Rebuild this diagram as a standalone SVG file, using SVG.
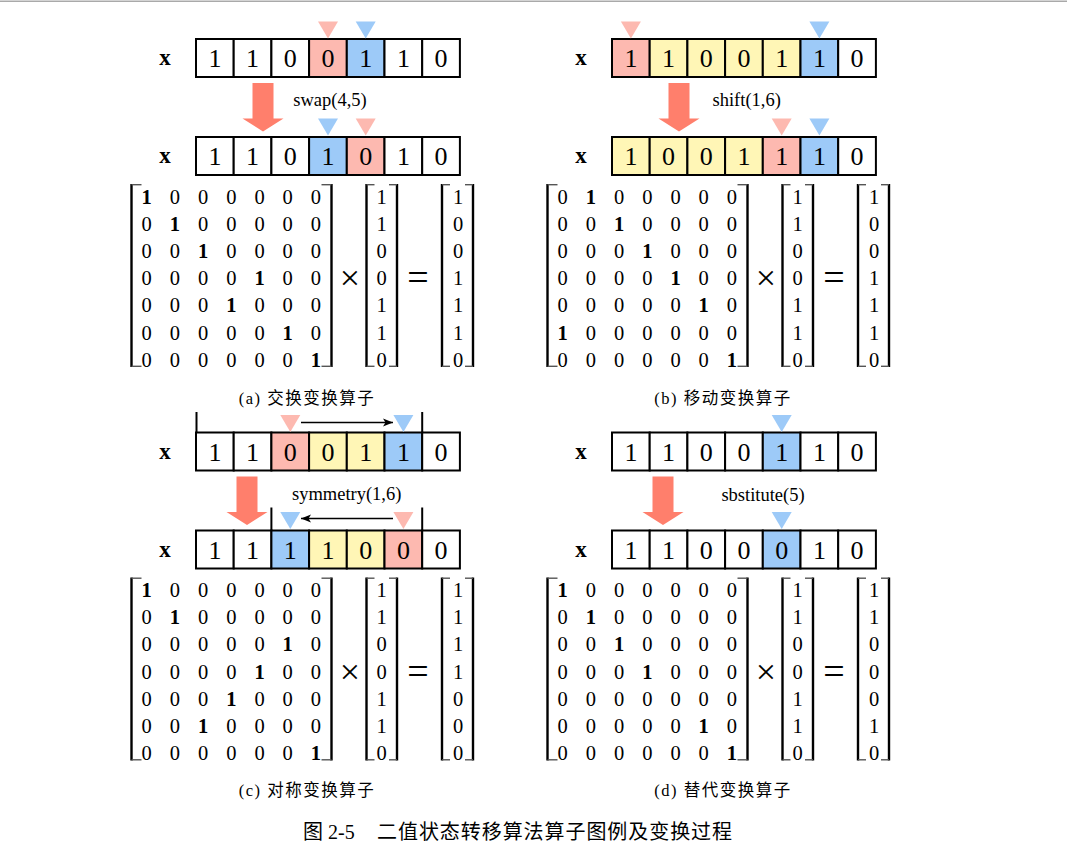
<svg xmlns="http://www.w3.org/2000/svg" width="1067" height="859" viewBox="0 0 1067 859">
<style>
text{font-family:"Liberation Serif","Noto Sans CJK SC",serif;fill:#000}
.c{fill:#fff;stroke:#000;stroke-width:2}
.pk{fill:#FDB9B0}
.bl{fill:#9DCAF8}
.yl{fill:#FFF6B6}
.tp{fill:#FDB9B0}
.tb{fill:#9DCAF8}
.d{font-size:26px;text-anchor:middle}
.xl{font-size:23px;font-weight:bold;text-anchor:middle}
.op{font-size:18.5px;text-anchor:middle}
.m{font-size:20.5px;text-anchor:middle}
.b{font-weight:bold}
.cap{font-size:16.5px;text-anchor:middle;letter-spacing:1.5px}
.big{fill:#FF7F6C}
.bv{stroke:#000;stroke-width:2.4}
.bs{stroke:#555;stroke-width:1.4}
.thin{stroke:#000;stroke-width:1.3;fill:none}
.ln{stroke:#000;stroke-width:2}
</style>
<defs>
<marker id="ah" viewBox="0 0 10 10" refX="10" refY="5" markerWidth="10" markerHeight="10" markerUnits="userSpaceOnUse" orient="auto">
<path d="M0,1 L10,5 L0,9 L2.5,5 Z" fill="#000"/>
</marker>
<g id="brackets">
<line class="bv" x1="131.5" y1="184" x2="131.5" y2="367"/>
<line class="bs" x1="131.5" y1="184.7" x2="141.5" y2="184.7"/><line class="bs" x1="131.5" y1="366.3" x2="141.5" y2="366.3"/>
<line class="bv" x1="331.5" y1="184" x2="331.5" y2="367"/>
<line class="bs" x1="321.5" y1="184.7" x2="331.5" y2="184.7"/><line class="bs" x1="321.5" y1="366.3" x2="331.5" y2="366.3"/>
<line class="bv" x1="366.5" y1="184" x2="366.5" y2="367"/>
<line class="bs" x1="366.5" y1="184.7" x2="374.5" y2="184.7"/><line class="bs" x1="366.5" y1="366.3" x2="374.5" y2="366.3"/>
<line class="bv" x1="397" y1="184" x2="397" y2="367"/>
<line class="bs" x1="389" y1="184.7" x2="397" y2="184.7"/><line class="bs" x1="389" y1="366.3" x2="397" y2="366.3"/>
<line class="bv" x1="442" y1="184" x2="442" y2="367"/>
<line class="bs" x1="442" y1="184.7" x2="450" y2="184.7"/><line class="bs" x1="442" y1="366.3" x2="450" y2="366.3"/>
<line class="bv" x1="473" y1="184" x2="473" y2="367"/>
<line class="bs" x1="465" y1="184.7" x2="473" y2="184.7"/><line class="bs" x1="465" y1="366.3" x2="473" y2="366.3"/>
<text x="350" y="290" style="font-size:36px;text-anchor:middle">×</text>
<text x="418" y="290" style="font-size:38px;text-anchor:middle">=</text>
<text class="m" x="381.5 381.5 381.5 381.5 381.5 381.5 381.5" y="203.5 230.7 257.9 285.1 312.3 339.5 366.7">1100110</text>
</g>
<polygon id="bigA" class="big" points="252.5,83 273.5,83 273.5,118.5 283.5,118.5 263,131.5 242.5,118.5 252.5,118.5"/>
<polygon id="bigC" class="big" points="236.5,83 257.5,83 257.5,118.5 267.5,118.5 247,131.5 226.5,118.5 236.5,118.5"/>
<polygon id="tri" points="-10,0 10,0 0,17"/>
</defs>
<rect x="0" y="0.5" width="1067" height="1.5" fill="#a9a9a9"/>

<!-- Panel A -->
<g id="panel-a">
<g id="a-row1">
<text class="xl" x="165" y="65">x</text>
<rect class="c" x="196" y="39" width="37.7" height="38"/><rect class="c" x="233.7" y="39" width="37.7" height="38"/><rect class="c" x="271.4" y="39" width="37.7" height="38"/><rect class="c pk" x="309.1" y="39" width="37.7" height="38"/><rect class="c bl" x="346.8" y="39" width="37.7" height="38"/><rect class="c" x="384.5" y="39" width="37.7" height="38"/><rect class="c" x="422.2" y="39" width="37.7" height="38"/>
<text class="d" x="214.9 252.6 290.3 328 365.7 403.4 441.1" y="67">1100110</text>
<use href="#tri" class="tp" x="328" y="21.5"/><use href="#tri" class="tb" x="365.7" y="21.5"/>
</g>
<use href="#bigA"/>
<text class="op" x="330" y="106">swap(4,5)</text>
<g id="a-row2">
<text class="xl" x="165" y="163">x</text>
<rect class="c" x="196" y="137" width="37.7" height="38"/><rect class="c" x="233.7" y="137" width="37.7" height="38"/><rect class="c" x="271.4" y="137" width="37.7" height="38"/><rect class="c bl" x="309.1" y="137" width="37.7" height="38"/><rect class="c pk" x="346.8" y="137" width="37.7" height="38"/><rect class="c" x="384.5" y="137" width="37.7" height="38"/><rect class="c" x="422.2" y="137" width="37.7" height="38"/>
<text class="d" x="214.9 252.6 290.3 328 365.7 403.4 441.1" y="165">1101010</text>
<use href="#tri" class="tb" x="328" y="118.5"/><use href="#tri" class="tp" x="365.7" y="118.5"/>
</g>
<g id="a-matrix">
<use href="#brackets"/>
<g class="m">
<text y="203.5"><tspan x="146.7" class="b">1</tspan><tspan x="174.9 203.1 231.3 259.5 287.7 315.9">000000</tspan></text>
<text y="230.7"><tspan x="146.7">0</tspan><tspan x="174.9" class="b">1</tspan><tspan x="203.1 231.3 259.5 287.7 315.9">00000</tspan></text>
<text y="257.9"><tspan x="146.7 174.9">00</tspan><tspan x="203.1" class="b">1</tspan><tspan x="231.3 259.5 287.7 315.9">0000</tspan></text>
<text y="285.1"><tspan x="146.7 174.9 203.1 231.3">0000</tspan><tspan x="259.5" class="b">1</tspan><tspan x="287.7 315.9">00</tspan></text>
<text y="312.3"><tspan x="146.7 174.9 203.1">000</tspan><tspan x="231.3" class="b">1</tspan><tspan x="259.5 287.7 315.9">000</tspan></text>
<text y="339.5"><tspan x="146.7 174.9 203.1 231.3 259.5">00000</tspan><tspan x="287.7" class="b">1</tspan><tspan x="315.9">0</tspan></text>
<text y="366.7"><tspan x="146.7 174.9 203.1 231.3 259.5 287.7">000000</tspan><tspan x="315.9" class="b">1</tspan></text>
</g>
<text class="m" x="458 458 458 458 458 458 458" y="203.5 230.7 257.9 285.1 312.3 339.5 366.7">1001110</text>
</g>
<text class="cap" x="307" y="404">(a) 交换变换算子</text>
</g>

<!-- Panel B -->
<g id="panel-b" transform="translate(416,0)">
<g id="b-row1">
<text class="xl" x="165" y="65">x</text>
<rect class="c pk" x="196" y="39" width="37.7" height="38"/><rect class="c yl" x="233.7" y="39" width="37.7" height="38"/><rect class="c yl" x="271.4" y="39" width="37.7" height="38"/><rect class="c yl" x="309.1" y="39" width="37.7" height="38"/><rect class="c yl" x="346.8" y="39" width="37.7" height="38"/><rect class="c bl" x="384.5" y="39" width="37.7" height="38"/><rect class="c" x="422.2" y="39" width="37.7" height="38"/>
<text class="d" x="214.9 252.6 290.3 328 365.7 403.4 441.1" y="67">1100110</text>
<use href="#tri" class="tp" x="214.9" y="21.5"/><use href="#tri" class="tb" x="403.4" y="21.5"/>
</g>
<use href="#bigA"/>
<text class="op" x="330.7" y="106">shift(1,6)</text>
<g id="b-row2">
<text class="xl" x="165" y="163">x</text>
<rect class="c yl" x="196" y="137" width="37.7" height="38"/><rect class="c yl" x="233.7" y="137" width="37.7" height="38"/><rect class="c yl" x="271.4" y="137" width="37.7" height="38"/><rect class="c yl" x="309.1" y="137" width="37.7" height="38"/><rect class="c pk" x="346.8" y="137" width="37.7" height="38"/><rect class="c bl" x="384.5" y="137" width="37.7" height="38"/><rect class="c" x="422.2" y="137" width="37.7" height="38"/>
<text class="d" x="214.9 252.6 290.3 328 365.7 403.4 441.1" y="165">1001110</text>
<use href="#tri" class="tp" x="365.7" y="118.5"/><use href="#tri" class="tb" x="403.4" y="118.5"/>
</g>
<g id="b-matrix">
<use href="#brackets"/>
<g class="m">
<text y="203.5"><tspan x="146.7">0</tspan><tspan x="174.9" class="b">1</tspan><tspan x="203.1 231.3 259.5 287.7 315.9">00000</tspan></text>
<text y="230.7"><tspan x="146.7 174.9">00</tspan><tspan x="203.1" class="b">1</tspan><tspan x="231.3 259.5 287.7 315.9">0000</tspan></text>
<text y="257.9"><tspan x="146.7 174.9 203.1">000</tspan><tspan x="231.3" class="b">1</tspan><tspan x="259.5 287.7 315.9">000</tspan></text>
<text y="285.1"><tspan x="146.7 174.9 203.1 231.3">0000</tspan><tspan x="259.5" class="b">1</tspan><tspan x="287.7 315.9">00</tspan></text>
<text y="312.3"><tspan x="146.7 174.9 203.1 231.3 259.5">00000</tspan><tspan x="287.7" class="b">1</tspan><tspan x="315.9">0</tspan></text>
<text y="339.5"><tspan x="146.7" class="b">1</tspan><tspan x="174.9 203.1 231.3 259.5 287.7 315.9">000000</tspan></text>
<text y="366.7"><tspan x="146.7 174.9 203.1 231.3 259.5 287.7">000000</tspan><tspan x="315.9" class="b">1</tspan></text>
</g>
<text class="m" x="458 458 458 458 458 458 458" y="203.5 230.7 257.9 285.1 312.3 339.5 366.7">1001110</text>
</g>
<text class="cap" x="307" y="404">(b) 移动变换算子</text>
</g>

<!-- Panel C -->
<g id="panel-c" transform="translate(0,393.5)">
<g id="c-row1">
<text class="xl" x="165" y="65">x</text>
<rect class="c" x="196" y="39" width="37.7" height="38"/><rect class="c" x="233.7" y="39" width="37.7" height="38"/><rect class="c pk" x="271.4" y="39" width="37.7" height="38"/><rect class="c yl" x="309.1" y="39" width="37.7" height="38"/><rect class="c yl" x="346.8" y="39" width="37.7" height="38"/><rect class="c bl" x="384.5" y="39" width="37.7" height="38"/><rect class="c" x="422.2" y="39" width="37.7" height="38"/>
<text class="d" x="214.9 252.6 290.3 328 365.7 403.4 441.1" y="67">1100110</text>
<use href="#tri" class="tp" x="290.3" y="21.5"/><use href="#tri" class="tb" x="403.4" y="21.5"/>
<line class="ln" x1="196.5" y1="18.5" x2="196.5" y2="39"/><line class="ln" x1="422.2" y1="18.5" x2="422.2" y2="39"/>
</g>
<use href="#bigC"/>
<text class="op" x="346.7" y="106">symmetry(1,6)</text>
<g id="c-row2">
<text class="xl" x="165" y="163">x</text>
<rect class="c" x="196" y="137" width="37.7" height="38"/><rect class="c" x="233.7" y="137" width="37.7" height="38"/><rect class="c bl" x="271.4" y="137" width="37.7" height="38"/><rect class="c yl" x="309.1" y="137" width="37.7" height="38"/><rect class="c yl" x="346.8" y="137" width="37.7" height="38"/><rect class="c pk" x="384.5" y="137" width="37.7" height="38"/><rect class="c" x="422.2" y="137" width="37.7" height="38"/>
<text class="d" x="214.9 252.6 290.3 328 365.7 403.4 441.1" y="165">1111000</text>
<use href="#tri" class="tb" x="290.3" y="118.5"/><use href="#tri" class="tp" x="403.4" y="118.5"/>
<line class="ln" x1="271.4" y1="114" x2="271.4" y2="137"/><line class="ln" x1="422.2" y1="114" x2="422.2" y2="137"/>
</g>
<g id="c-matrix">
<use href="#brackets"/>
<g class="m">
<text y="203.5"><tspan x="146.7" class="b">1</tspan><tspan x="174.9 203.1 231.3 259.5 287.7 315.9">000000</tspan></text>
<text y="230.7"><tspan x="146.7">0</tspan><tspan x="174.9" class="b">1</tspan><tspan x="203.1 231.3 259.5 287.7 315.9">00000</tspan></text>
<text y="257.9"><tspan x="146.7 174.9 203.1 231.3 259.5">00000</tspan><tspan x="287.7" class="b">1</tspan><tspan x="315.9">0</tspan></text>
<text y="285.1"><tspan x="146.7 174.9 203.1 231.3">0000</tspan><tspan x="259.5" class="b">1</tspan><tspan x="287.7 315.9">00</tspan></text>
<text y="312.3"><tspan x="146.7 174.9 203.1">000</tspan><tspan x="231.3" class="b">1</tspan><tspan x="259.5 287.7 315.9">000</tspan></text>
<text y="339.5"><tspan x="146.7 174.9">00</tspan><tspan x="203.1" class="b">1</tspan><tspan x="231.3 259.5 287.7 315.9">0000</tspan></text>
<text y="366.7"><tspan x="146.7 174.9 203.1 231.3 259.5 287.7">000000</tspan><tspan x="315.9" class="b">1</tspan></text>
</g>
<text class="m" x="458 458 458 458 458 458 458" y="203.5 230.7 257.9 285.1 312.3 339.5 366.7">1111000</text>
</g>
<text class="cap" x="307" y="402">(c) 对称变换算子</text>
</g>

<!-- Panel D -->
<g id="panel-d" transform="translate(416,393.5)">
<g id="d-row1">
<text class="xl" x="165" y="65">x</text>
<rect class="c" x="196" y="39" width="37.7" height="38"/><rect class="c" x="233.7" y="39" width="37.7" height="38"/><rect class="c" x="271.4" y="39" width="37.7" height="38"/><rect class="c" x="309.1" y="39" width="37.7" height="38"/><rect class="c bl" x="346.8" y="39" width="37.7" height="38"/><rect class="c" x="384.5" y="39" width="37.7" height="38"/><rect class="c" x="422.2" y="39" width="37.7" height="38"/>
<text class="d" x="214.9 252.6 290.3 328 365.7 403.4 441.1" y="67">1100110</text>
<use href="#tri" class="tb" x="365.7" y="21.5"/>
</g>
<use href="#bigC"/>
<text class="op" x="347" y="107">sbstitute(5)</text>
<g id="d-row2">
<text class="xl" x="165" y="163">x</text>
<rect class="c" x="196" y="137" width="37.7" height="38"/><rect class="c" x="233.7" y="137" width="37.7" height="38"/><rect class="c" x="271.4" y="137" width="37.7" height="38"/><rect class="c" x="309.1" y="137" width="37.7" height="38"/><rect class="c bl" x="346.8" y="137" width="37.7" height="38"/><rect class="c" x="384.5" y="137" width="37.7" height="38"/><rect class="c" x="422.2" y="137" width="37.7" height="38"/>
<text class="d" x="214.9 252.6 290.3 328 365.7 403.4 441.1" y="165">1100010</text>
<use href="#tri" class="tb" x="365.7" y="118.5"/>
</g>
<g id="d-matrix">
<use href="#brackets"/>
<g class="m">
<text y="203.5"><tspan x="146.7" class="b">1</tspan><tspan x="174.9 203.1 231.3 259.5 287.7 315.9">000000</tspan></text>
<text y="230.7"><tspan x="146.7">0</tspan><tspan x="174.9" class="b">1</tspan><tspan x="203.1 231.3 259.5 287.7 315.9">00000</tspan></text>
<text y="257.9"><tspan x="146.7 174.9">00</tspan><tspan x="203.1" class="b">1</tspan><tspan x="231.3 259.5 287.7 315.9">0000</tspan></text>
<text y="285.1"><tspan x="146.7 174.9 203.1">000</tspan><tspan x="231.3" class="b">1</tspan><tspan x="259.5 287.7 315.9">000</tspan></text>
<text y="312.3"><tspan x="146.7 174.9 203.1 231.3 259.5 287.7 315.9">0000000</tspan></text>
<text y="339.5"><tspan x="146.7 174.9 203.1 231.3 259.5">00000</tspan><tspan x="287.7" class="b">1</tspan><tspan x="315.9">0</tspan></text>
<text y="366.7"><tspan x="146.7 174.9 203.1 231.3 259.5 287.7">000000</tspan><tspan x="315.9" class="b">1</tspan></text>
</g>
<text class="m" x="458 458 458 458 458 458 458" y="203.5 230.7 257.9 285.1 312.3 339.5 366.7">1100010</text>
</g>
<text class="cap" x="307" y="402">(d) 替代变换算子</text>
</g>

<g id="connectors">
<line class="thin" x1="301" y1="422.5" x2="393" y2="422.5" marker-end="url(#ah)"/>
<line class="thin" x1="393" y1="518.5" x2="301" y2="518.5" marker-end="url(#ah)"/>
</g>

<g id="figure-caption">
<text x="303" y="839" style="font-size:20px">图 2-5</text>
<text x="377" y="839" style="font-size:20px" textLength="355" lengthAdjust="spacing">二值状态转移算法算子图例及变换过程</text>
</g>
</svg>
